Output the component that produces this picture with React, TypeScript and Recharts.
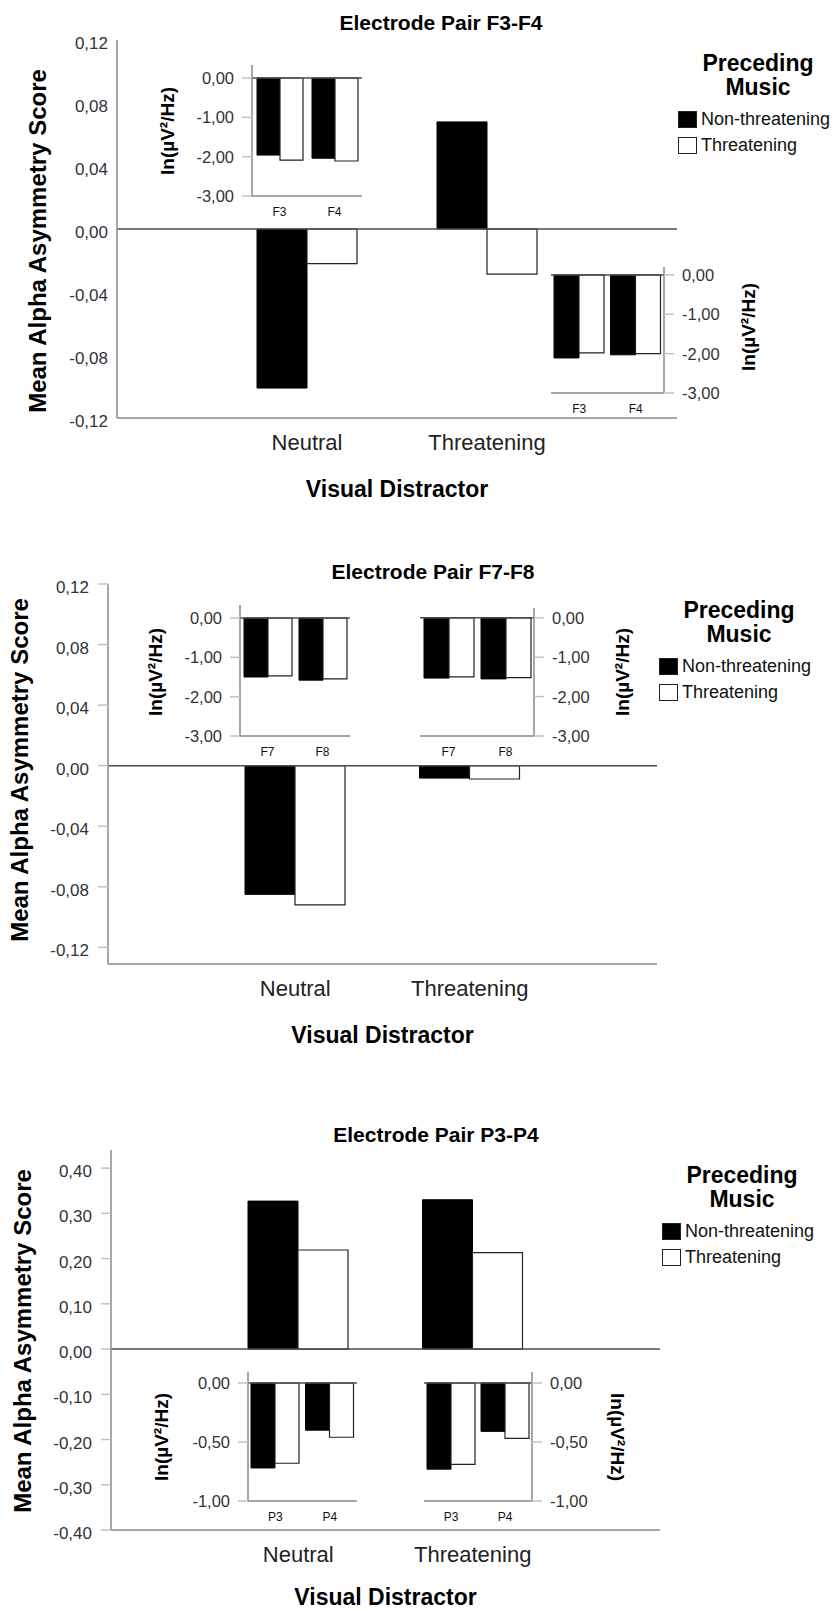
import React from 'react';
import { BarChart, Bar, XAxis, YAxis, ReferenceLine, Legend } from 'recharts';

const FONT = '"Liberation Sans", Arial, Helvetica, sans-serif';
const AXIS = '#8a8a8a';
const TICKLINE = '#c2c2c2';
const ZERO = '#4d4d4d';

// main charts: mean alpha asymmetry score by visual distractor
const distractors = ['Neutral', 'Threatening'];
const musicLabels = ['Non-threatening', 'Threatening'];

const f34NonThreat = [-0.101, 0.068];
const f34Threat = [-0.022, -0.0286];
const f78NonThreat = [-0.085, -0.0082];
const f78Threat = [-0.092, -0.0088];
const p34NonThreat = [0.327, 0.33];
const p34Threat = [0.219, 0.213];

const frontalTicks = [0.12, 0.08, 0.04, 0, -0.04, -0.08, -0.12];
const parietalTicks = [0.4, 0.3, 0.2, 0.1, 0, -0.1, -0.2, -0.3, -0.4];

// insets: ln(µV²/Hz) power per electrode
const f34Sites = ['F3', 'F4'];
const f78Sites = ['F7', 'F8'];
const p34Sites = ['P3', 'P4'];

const f34NeutralNT = [-1.96, -2.04];
const f34NeutralT = [-2.09, -2.11];
const f34ThreatNT = [-2.11, -2.03];
const f34ThreatT = [-1.98, -2.0];

const f78NeutralNT = [-1.5, -1.58];
const f78NeutralT = [-1.47, -1.55];
const f78ThreatNT = [-1.53, -1.55];
const f78ThreatT = [-1.5, -1.52];

const p34NeutralNT = [-0.72, -0.4];
const p34NeutralT = [-0.68, -0.46];
const p34ThreatNT = [-0.73, -0.41];
const p34ThreatT = [-0.69, -0.47];

const frontalPowerTicks = [0, -1, -2, -3];
const parietalPowerTicks = [0, -0.5, -1];

const fmt = (v: number) => (Math.abs(v) < 1e-9 ? 0 : v).toFixed(2).replace('.', ',');

const toRows = (names: string[], nt: number[], t: number[]) =>
  names.map((name, i) => ({ name, nt: nt[i], t: t[i] }));

function LegendBox() {
  return (
    <div style={{ position: 'relative', width: 170, height: 110, fontFamily: FONT }}>
      <div
        style={{
          position: 'absolute',
          left: 0,
          top: 0,
          width: 160,
          textAlign: 'center',
          fontWeight: 'bold',
          fontSize: 23,
          lineHeight: '24px',
          color: '#000',
        }}
      >
        Preceding
        <br />
        Music
      </div>
      {musicLabels.map((label, i) => (
        <div
          key={label}
          style={{
            position: 'absolute',
            left: 0,
            top: 60 + i * 26,
            display: 'flex',
            alignItems: 'center',
            height: 17,
          }}
        >
          <div
            style={{
              width: 19,
              height: 17,
              boxSizing: 'border-box',
              border: '1.5px solid #222',
              background: i === 0 ? '#000' : '#fff',
            }}
          />
          <span style={{ marginLeft: 4, fontSize: 18, lineHeight: '17px', color: '#111', whiteSpace: 'nowrap' }}>
            {label}
          </span>
        </div>
      ))}
    </div>
  );
}

interface PanelProps {
  top: number;
  height: number;
  plotLeft: number;
  plotRight: number;
  plotTop: number;
  plotBottom: number;
  domain: [number, number];
  ticks: number[];
  tickMarks: boolean;
  nt: number[];
  t: number[];
  title: string;
  titleX: number;
  titleY: number;
  yLabelX: number;
  yLabelY: number;
  xTitleGap: number;
  legendX: number;
  legendY: number;
}

function Panel(p: PanelProps) {
  const data = toRows(distractors, p.nt, p.t);
  const xAxisHeight = p.top + p.height - p.plotBottom;
  return (
    <>
      <div style={{ position: 'absolute', left: 0, top: p.top, width: 838, height: p.height }}>
        <BarChart
          width={838}
          height={p.height}
          data={data}
          margin={{ top: p.plotTop - p.top, right: 838 - p.plotRight, bottom: 0, left: 0 }}
          barGap={0}
          barSize={50}
        >
          <XAxis
            dataKey="name"
            height={xAxisHeight}
            padding={{ left: 100, right: 100 }}
            axisLine={{ stroke: AXIS, strokeWidth: 1.5 }}
            tickLine={false}
            tickSize={0}
            tickMargin={0}
            interval={0}
            tick={(tp: any) => (
              <text x={tp.x} y={tp.y} dy={32} textAnchor="middle" fontSize={22} fill="#222" fontFamily={FONT}>
                {tp.payload.value}
              </text>
            )}
            label={{
              content: () => (
                <text
                  x={(p.plotLeft + p.plotRight) / 2}
                  y={p.plotBottom - p.top + p.xTitleGap}
                  textAnchor="middle"
                  fontSize={23}
                  fontWeight="bold"
                  fill="#000"
                  fontFamily={FONT}
                >
                  Visual Distractor
                </text>
              ),
            }}
          />
          <YAxis
            type="number"
            domain={p.domain}
            ticks={p.ticks}
            interval={0}
            width={p.plotLeft}
            axisLine={{ stroke: AXIS, strokeWidth: 1.5 }}
            tickLine={p.tickMarks ? { stroke: TICKLINE, strokeWidth: 1.5 } : false}
            tickSize={p.tickMarks ? 10 : 0}
            tickMargin={9}
            tick={(tp: any) => (
              <text x={tp.x} y={tp.y} dy={9} textAnchor="end" fontSize={17} fill="#333" fontFamily={FONT}>
                {fmt(tp.payload.value)}
              </text>
            )}
            label={{
              content: () => (
                <text
                  transform={`translate(${p.yLabelX},${p.yLabelY - p.top}) rotate(-90)`}
                  textAnchor="middle"
                  dominantBaseline="central"
                  fontSize={24}
                  fontWeight="bold"
                  fill="#000"
                  fontFamily={FONT}
                >
                  Mean Alpha Asymmetry Score
                </text>
              ),
            }}
          />
          <ReferenceLine y={0} stroke={ZERO} strokeWidth={1.5} />
          <Bar dataKey="nt" name={musicLabels[0]} fill="#000" stroke="#000" isAnimationActive={false} />
          <Bar dataKey="t" name={musicLabels[1]} fill="#fff" stroke="#222" strokeWidth={1.2} isAnimationActive={false} />
          <Legend
            layout="horizontal"
            verticalAlign="middle"
            align="center"
            wrapperStyle={{ position: 'absolute', left: p.legendX, top: p.legendY - p.top, width: 175, height: 110 }}
            content={() => <LegendBox />}
          />
        </BarChart>
      </div>
      <div
        style={{
          position: 'absolute',
          left: p.titleX,
          top: p.titleY,
          transform: 'translate(-50%, -50%)',
          fontFamily: FONT,
          fontWeight: 'bold',
          fontSize: 21,
          whiteSpace: 'nowrap',
          color: '#000',
        }}
      >
        {p.title}
      </div>
    </>
  );
}

interface InsetProps {
  plotLeft: number;
  plotRight: number;
  plotTop: number;
  plotBottom: number;
  side: 'left' | 'right';
  domain: [number, number];
  ticks: number[];
  sites: string[];
  nt: number[];
  t: number[];
  barSize: number;
  labelX: number;
  labelY: number;
  labelRotate: number;
}

function Inset(p: InsetProps) {
  const padL = p.side === 'left' ? 100 : 6;
  const padR = p.side === 'right' ? 100 : 6;
  const padT = 5;
  const padB = 30;
  const w = p.plotRight - p.plotLeft + padL + padR;
  const h = p.plotBottom - p.plotTop + padT + padB;
  const left = p.plotLeft - padL;
  const top = p.plotTop - padT;
  const data = toRows(p.sites, p.nt, p.t);
  return (
    <div style={{ position: 'absolute', left, top, width: w, height: h }}>
      <BarChart
        width={w}
        height={h}
        data={data}
        margin={{
          top: padT,
          bottom: 0,
          left: p.side === 'left' ? 0 : padL,
          right: p.side === 'right' ? 0 : padR,
        }}
        barGap={0}
        barSize={p.barSize}
      >
        <XAxis
          dataKey="name"
          height={padB}
          axisLine={{ stroke: AXIS, strokeWidth: 1.5 }}
          tickLine={false}
          tickSize={0}
          tickMargin={0}
          interval={0}
          tick={(tp: any) => (
            <text x={tp.x} y={tp.y} dy={20} textAnchor="middle" fontSize={12} fill="#111" fontFamily={FONT}>
              {tp.payload.value}
            </text>
          )}
        />
        <YAxis
          type="number"
          orientation={p.side}
          domain={p.domain}
          ticks={p.ticks}
          interval={0}
          width={p.side === 'left' ? padL : padR}
          axisLine={{ stroke: AXIS, strokeWidth: 1.5 }}
          tickLine={{ stroke: TICKLINE, strokeWidth: 1.5 }}
          tickSize={10}
          tickMargin={8}
          tick={(tp: any) => (
            <text
              x={tp.x}
              y={tp.y}
              dy={6}
              textAnchor={p.side === 'left' ? 'end' : 'start'}
              fontSize={16.5}
              fill="#333"
              fontFamily={FONT}
            >
              {fmt(tp.payload.value)}
            </text>
          )}
          label={{
            content: () => (
              <text
                transform={`translate(${p.labelX - left},${p.labelY - top}) rotate(${p.labelRotate})`}
                textAnchor="middle"
                dominantBaseline="central"
                fontSize={19}
                fontWeight="bold"
                fill="#000"
                fontFamily={FONT}
              >
                ln(µV²/Hz)
              </text>
            ),
          }}
        />
        <ReferenceLine y={0} stroke={ZERO} strokeWidth={1.5} />
        <Bar dataKey="nt" fill="#000" stroke="#000" isAnimationActive={false} />
        <Bar dataKey="t" fill="#fff" stroke="#222" strokeWidth={1.2} isAnimationActive={false} />
      </BarChart>
    </div>
  );
}

export default function App() {
  return (
    <div style={{ position: 'absolute', left: 0, top: 0, width: 838, height: 1611, background: '#fff' }}>
      <Panel
        top={0}
        height={510}
        plotLeft={117}
        plotRight={677}
        plotTop={40}
        plotBottom={418}
        domain={[-0.12, 0.12]}
        ticks={frontalTicks}
        tickMarks={false}
        nt={f34NonThreat}
        t={f34Threat}
        title="Electrode Pair F3-F4"
        titleX={441}
        titleY={23}
        yLabelX={37}
        yLabelY={241}
        xTitleGap={79}
        legendX={678}
        legendY={51}
      />
      <Inset
        plotLeft={252}
        plotRight={362}
        plotTop={65}
        plotBottom={196}
        side="left"
        domain={[-3, 0.33]}
        ticks={frontalPowerTicks}
        sites={f34Sites}
        nt={f34NeutralNT}
        t={f34NeutralT}
        barSize={23}
        labelX={167}
        labelY={131}
        labelRotate={-90}
      />
      <Inset
        plotLeft={551}
        plotRight={664}
        plotTop={267}
        plotBottom={393}
        side="right"
        domain={[-3, 0.2]}
        ticks={frontalPowerTicks}
        sites={f34Sites}
        nt={f34ThreatNT}
        t={f34ThreatT}
        barSize={25}
        labelX={748}
        labelY={327}
        labelRotate={-90}
      />

      <Panel
        top={550}
        height={505}
        plotLeft={108}
        plotRight={657}
        plotTop={584}
        plotBottom={964}
        domain={[-0.131, 0.12]}
        ticks={frontalTicks}
        tickMarks={true}
        nt={f78NonThreat}
        t={f78Threat}
        title="Electrode Pair F7-F8"
        titleX={433}
        titleY={572}
        yLabelX={19}
        yLabelY={770}
        xTitleGap={79}
        legendX={659}
        legendY={598}
      />
      <Inset
        plotLeft={240}
        plotRight={350}
        plotTop={605}
        plotBottom={736}
        side="left"
        domain={[-3, 0.33]}
        ticks={frontalPowerTicks}
        sites={f78Sites}
        nt={f78NeutralNT}
        t={f78NeutralT}
        barSize={24}
        labelX={155}
        labelY={672}
        labelRotate={-90}
      />
      <Inset
        plotLeft={420}
        plotRight={534}
        plotTop={608}
        plotBottom={736}
        side="right"
        domain={[-3, 0.25]}
        ticks={frontalPowerTicks}
        sites={f78Sites}
        nt={f78ThreatNT}
        t={f78ThreatT}
        barSize={25}
        labelX={622}
        labelY={672}
        labelRotate={-90}
      />

      <Panel
        top={1110}
        height={501}
        plotLeft={111}
        plotRight={660}
        plotTop={1150}
        plotBottom={1530}
        domain={[-0.4, 0.44]}
        ticks={parietalTicks}
        tickMarks={true}
        nt={p34NonThreat}
        t={p34Threat}
        title="Electrode Pair P3-P4"
        titleX={436}
        titleY={1135}
        yLabelX={22}
        yLabelY={1341}
        xTitleGap={75}
        legendX={662}
        legendY={1163}
      />
      <Inset
        plotLeft={248}
        plotRight={357}
        plotTop={1372}
        plotBottom={1501}
        side="left"
        domain={[-1, 0.093]}
        ticks={parietalPowerTicks}
        sites={p34Sites}
        nt={p34NeutralNT}
        t={p34NeutralT}
        barSize={24}
        labelX={161}
        labelY={1437}
        labelRotate={-90}
      />
      <Inset
        plotLeft={424}
        plotRight={532}
        plotTop={1372}
        plotBottom={1501}
        side="right"
        domain={[-1, 0.093]}
        ticks={parietalPowerTicks}
        sites={p34Sites}
        nt={p34ThreatNT}
        t={p34ThreatT}
        barSize={24}
        labelX={617}
        labelY={1437}
        labelRotate={90}
      />
    </div>
  );
}
